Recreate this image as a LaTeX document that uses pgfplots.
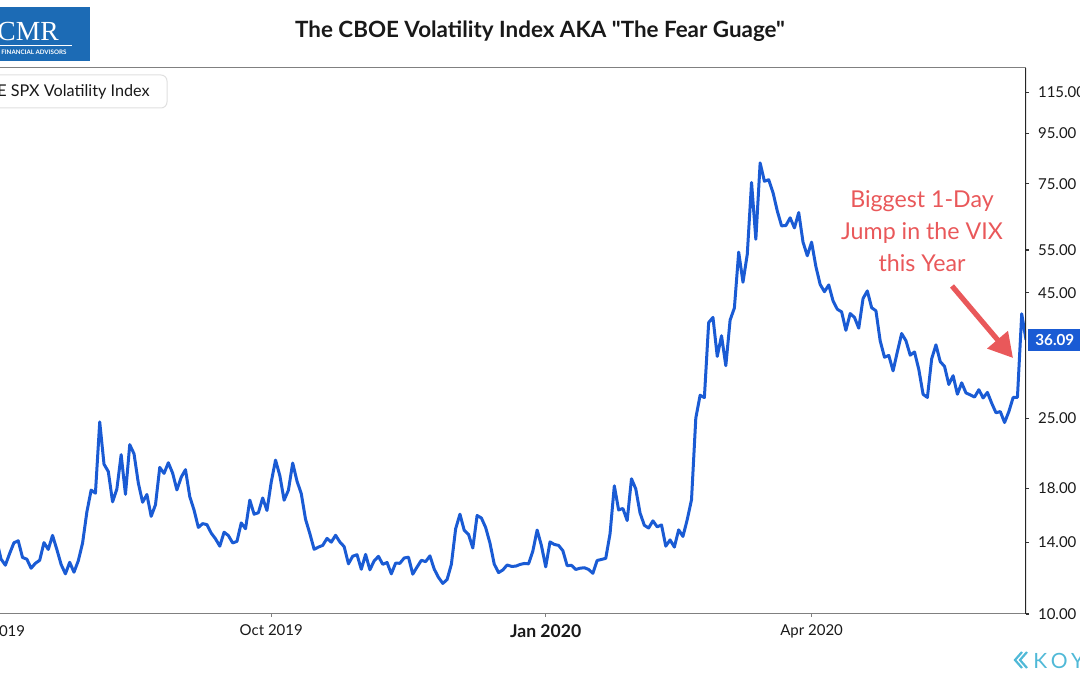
\documentclass[border=0pt]{standalone}
\usepackage{fontspec}
\setmainfont{Lato}
\newfontfamily\latoraw{Lato}
\newfontfamily\serifcmr{Liberation Serif}
\usepackage{pgfplots}
\usepackage{pgfplotstable}
\pgfplotsset{compat=1.18}
\usetikzlibrary{arrows.meta}
\definecolor{vixblue}{RGB}{26,91,212}
\definecolor{annred}{RGB}{233,88,90}
\definecolor{logoblue}{RGB}{28,107,181}
\definecolor{koycyan}{RGB}{80,185,215}
\definecolor{axisgray}{RGB}{128,128,128}
\definecolor{ticktext}{RGB}{25,25,25}

% trading-day index (0 = 1 Jul 2019), VIX close
\pgfplotstableread{
idx vix
-1 15.08
0 14.06
1 12.93
2 12.57
3 13.28
4 13.96
5 14.09
6 13.03
7 12.93
8 12.39
9 12.68
10 12.86
11 13.97
12 13.53
13 14.45
14 13.53
15 12.61
16 12.07
17 12.74
18 12.16
19 12.83
20 13.94
21 16.12
22 17.87
23 17.61
24 24.59
25 20.17
26 19.49
27 16.91
28 17.97
29 21.09
30 17.52
31 22.10
32 21.18
33 18.47
34 16.88
35 17.50
36 15.80
37 16.68
38 19.87
39 19.32
40 20.31
41 19.35
42 17.88
43 18.98
44 19.66
45 17.33
46 16.27
47 15.00
48 15.27
49 15.20
50 14.61
51 14.22
52 13.74
53 14.67
54 14.44
55 13.95
56 14.05
57 15.32
58 14.91
59 17.05
60 15.96
61 16.07
62 17.22
63 16.24
64 18.56
65 20.56
66 19.12
67 17.04
68 17.86
69 20.28
70 18.64
71 17.57
72 15.58
73 14.57
74 13.54
75 13.68
76 13.79
77 14.25
78 14.00
79 14.46
80 14.01
81 13.71
82 12.65
83 13.11
84 13.20
85 12.33
86 13.22
87 12.30
88 12.83
89 13.10
90 12.62
91 12.73
92 12.07
93 12.69
94 12.68
95 13.00
96 13.05
97 12.05
98 12.46
99 12.86
100 12.78
101 13.13
102 12.34
103 11.87
104 11.54
105 11.75
106 12.62
107 14.91
108 15.96
109 14.80
110 14.52
111 13.62
112 15.86
113 15.68
114 14.99
115 13.94
116 12.63
117 12.14
118 12.29
119 12.58
120 12.50
121 12.51
122 12.61
123 12.67
124 12.65
125 13.43
126 14.82
127 13.78
128 12.47
129 14.02
130 13.85
131 13.79
132 13.45
133 12.54
134 12.56
135 12.32
136 12.39
137 12.42
138 12.32
139 12.10
140 12.85
141 12.91
142 12.98
143 14.56
144 18.23
145 16.28
146 16.39
147 15.49
148 18.84
149 17.97
150 16.05
151 15.15
152 14.96
153 15.47
154 15.04
155 15.18
156 13.74
157 14.15
158 13.68
159 14.83
160 14.38
161 15.56
162 17.08
163 25.03
164 27.85
165 27.56
166 39.16
167 40.11
168 33.42
169 36.82
170 31.99
171 39.62
172 41.94
173 54.46
174 47.30
175 53.90
176 75.47
177 57.83
178 82.69
179 75.91
180 76.45
181 72.00
182 66.04
183 61.59
184 61.67
185 63.95
186 61.00
187 65.54
188 57.08
189 53.54
190 57.06
191 50.91
192 46.80
193 45.24
194 46.70
195 43.35
196 41.67
197 41.17
198 37.76
199 40.84
200 40.11
201 38.15
202 43.83
203 45.41
204 41.98
205 41.38
206 35.93
207 33.29
208 33.57
209 31.23
210 34.15
211 37.19
212 35.97
213 33.61
214 34.12
215 31.44
216 27.98
217 27.57
218 33.04
219 35.28
220 32.61
221 31.89
222 29.30
223 30.53
224 27.99
225 29.53
226 28.16
227 27.91
228 27.62
229 28.59
230 27.51
231 28.23
232 26.84
233 25.66
234 25.81
235 24.52
236 25.81
237 27.57
238 27.57
239 40.79
240 36.09
}\vixdata

\begin{document}
\begin{tikzpicture}
\path[use as bounding box] (0pt,0pt) rectangle (540pt,337.5pt);
\clip (0pt,0pt) rectangle (540pt,337.5pt);
\begin{axis}[
  at={(-1.6pt,30.5pt)}, anchor=south west,
  scale only axis, width=514.6pt, height=273pt,
  xmin=0, xmax=240,
  ymode=log, ymin=10, ymax=129,
  axis line style={draw=none},
  xtick={0,64,128,190},
  xticklabels={Jul 2019, Oct 2019, {\fontsize{8.8}{10}\selectfont\bfseries Jan 2020}, Apr 2020},
  ytick={10,14,18,25,45,55,75,95,115},
  yticklabels={10.00,14.00,18.00,25.00,45.00,55.00,75.00,95.00,115.00},
  yminorticks=false, xminorticks=false,
  xtick pos=bottom, ytick pos=right,
  tick align=outside,
  major tick length=1.5pt,
  xtick style={draw=axisgray, line width=0.6pt},
  ytick style={draw=black!80, line width=0.6pt},
  ticklabel style={font=\fontsize{7.5}{9}\selectfont, text=ticktext},
  yticklabel style={anchor=west, xshift=1.0pt},
  xticklabel style={yshift=-0.5pt},
  clip=true,
]
\addplot[vixblue, line width=1.5pt, line join=round] table[x=idx, y=vix] {\vixdata};
\draw[axisgray, line width=0.5pt] (rel axis cs:0,1) -- (rel axis cs:1,1);
\draw[axisgray, line width=1pt] (rel axis cs:0,0) -- (rel axis cs:1,0);
\draw[black!85, line width=0.6pt] (rel axis cs:1,0) -- (rel axis cs:1,1);
\end{axis}

\begin{scope}[x=0.5pt, y=-0.5pt, shift={(0pt,337.5pt)}]
  % title
  \node[font=\latoraw\fontsize{11.2}{13}\selectfont\bfseries, text=black!90] at (540,31)
    {The CBOE Volatility Index AKA "The Fear Guage"};
  % logo
  \fill[logoblue] (-5,7) rectangle (90,61);
  \node[text=white, font=\serifcmr\fontsize{13.8}{14}\selectfont, anchor=base west, inner sep=0] at (-3,41) {CMR};
  \draw[white, line width=0.35pt] (0,45.5) -- (72,45.5);
  \node[text=white, font=\bfseries\fontsize{3.1}{3.2}\selectfont, anchor=base west, inner sep=0] at (1,55) {FINANCIAL ADVISORS};
  % legend box
  \draw[black!12, fill=white, rounded corners=3pt, line width=0.5pt] (-40,75) rectangle (167,108);
  \node[font=\fontsize{8.1}{9}\selectfont, text=ticktext, anchor=base east, inner sep=0] at (150,97)
    {CBOE SPX Volatility Index};
  % annotation
  \node[font=\fontsize{11.6}{14}\selectfont, text=annred, anchor=base, inner sep=0] at (922,208) {Biggest 1-Day};
  \node[font=\fontsize{11.6}{14}\selectfont, text=annred, anchor=base, inner sep=0] at (922,240) {Jump in the VIX};
  \node[font=\fontsize{11.6}{14}\selectfont, text=annred, anchor=base, inner sep=0] at (922,272) {this Year};
  \draw[annred, line width=2.6pt, -{Triangle[length=12pt, width=13pt]}] (952,286) -- (1013,358);
  % last value label
  \fill[vixblue] (1028,329) rectangle (1090,351);
  \node[text=white, font=\bfseries\fontsize{7.6}{9}\selectfont, anchor=west, inner sep=0] at (1035,340) {36.09};
  % koyfin mark
  \draw[koycyan, line width=1.1pt] (1022,652) -- (1015,660) -- (1022,668);
  \draw[koycyan, line width=1.1pt] (1027,652) -- (1020,660) -- (1027,668);
  \node[text=koycyan, font=\fontsize{10.5}{12}\selectfont, anchor=base west, inner sep=0] at (1033,668) {K\,O\,Y\,F\,I\,N};
\end{scope}
\end{tikzpicture}
\end{document}
